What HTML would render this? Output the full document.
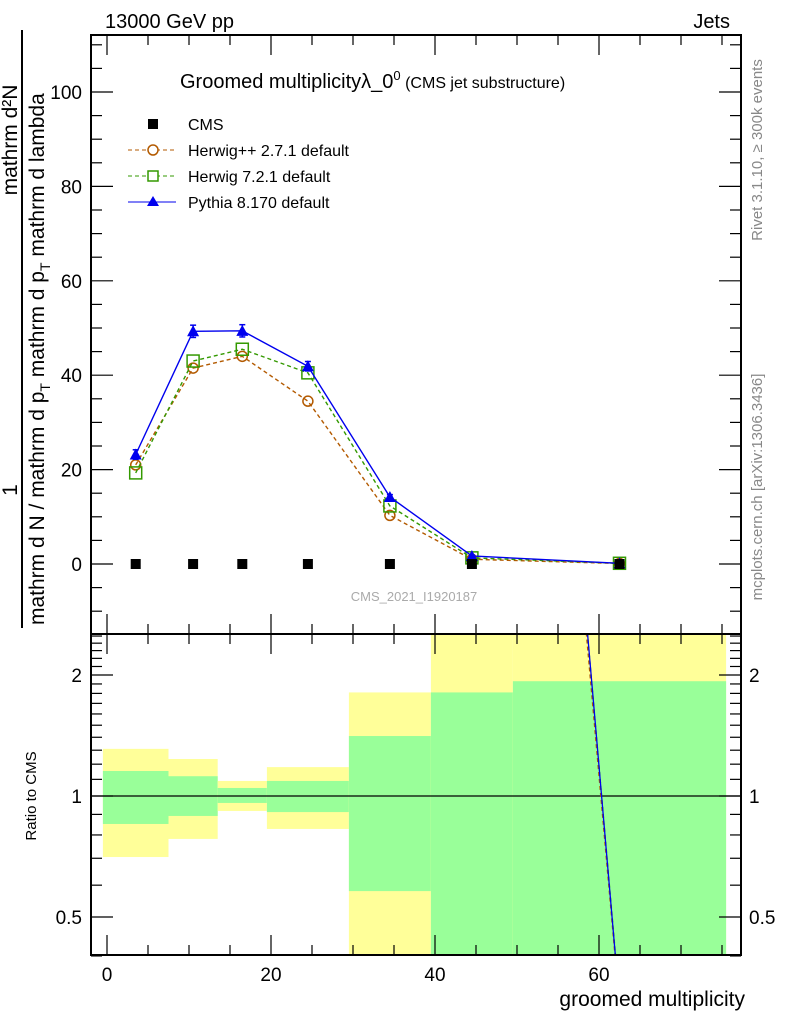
<!DOCTYPE html>
<html><head><meta charset="utf-8"><style>
body{margin:0;background:#fff;}
svg{display:block;font-family:"Liberation Sans",sans-serif;}
</style></head><body>
<svg id="c" width="786" height="1024" viewBox="0 0 786 1024" xmlns="http://www.w3.org/2000/svg">
<defs>
<clipPath id="mainclip"><rect x="91" y="35" width="650" height="599"/></clipPath>
<clipPath id="ratioclip"><rect x="91" y="634" width="650" height="321"/></clipPath>
</defs>
<g id="bands"></g>
<g id="marks"></g>
<g id="axes"></g>
<text x="105" y="28" font-size="20">13000 GeV pp</text>
<text x="730" y="28" font-size="20" text-anchor="end">Jets</text>
<text x="180" y="88" font-size="20">Groomed multiplicityλ_0<tspan font-size="13" dy="-8">0</tspan><tspan font-size="16" dy="8"> (CMS jet substructure)</tspan></text>
<text x="414" y="601" font-size="13" fill="#aaa" text-anchor="middle">CMS_2021_I1920187</text>
<text transform="translate(762,150) rotate(-90)" font-size="15" fill="#888" text-anchor="middle">Rivet 3.1.10, ≥ 300k events</text>
<text transform="translate(762,487) rotate(-90)" font-size="15" fill="#888" text-anchor="middle">mcplots.cern.ch [arXiv:1306.3436]</text>
<text x="745" y="1006" font-size="21" text-anchor="end">groomed multiplicity</text>
<text transform="translate(36,796) rotate(-90)" font-size="15" text-anchor="middle">Ratio to CMS</text>
<g font-size="21">
<line x1="22" y1="30" x2="22" y2="628" stroke="#000" stroke-width="2"/>
<text transform="translate(17,490) rotate(-90)" text-anchor="middle">1</text>
<text transform="translate(17,140) rotate(-90)" text-anchor="middle">mathrm d²N</text>
<text transform="translate(44,625) rotate(-90)">mathrm d N / mathrm d p<tspan font-size="14" dy="6">T</tspan><tspan dy="-6"> mathrm d p</tspan><tspan font-size="14" dy="6">T</tspan><tspan dy="-6"> mathrm d lambda</tspan></text>
</g>
<g font-size="16">
<g><rect x="148" y="119" width="10" height="10" fill="#000"/><text x="188" y="130">CMS</text></g>
<g><line x1="128" y1="150" x2="176" y2="150" stroke="#b35a00" stroke-dasharray="4,3"/><circle cx="153" cy="150" r="5" fill="#fff" stroke="#b35a00" stroke-width="1.5"/><text x="188" y="156">Herwig++ 2.7.1 default</text></g>
<g><line x1="128" y1="176" x2="176" y2="176" stroke="#339900" stroke-dasharray="4,3"/><rect x="148" y="171" width="10" height="10" fill="#fff" stroke="#339900" stroke-width="1.5"/><text x="188" y="182">Herwig 7.2.1 default</text></g>
<g><line x1="128" y1="202" x2="176" y2="202" stroke="#0000ee"/><polygon points="153,196 159,206 147,206" fill="#0000ee"/><text x="188" y="208">Pythia 8.170 default</text></g>
</g>
</svg>
<script>
const xs = [3.5, 10.5, 16.5, 24.5, 34.5, 44.5, 62.5];
const cms = [0, 0, 0, 0, 0, 0, 0];
const herwigpp = [21, 41.5, 44, 34.5, 10.3, 1.0, 0.1];
const herwig7 = [19.3, 43, 45.5, 40.5, 12.3, 1.3, 0.15];
const pythia = [23.2, 49.3, 49.4, 41.9, 14.2, 1.7, 0.15];
const pythiaErr = [1, 1.3, 1.3, 1, 0.5, 0.2, 0.05];
const binEdges = [-0.5, 7.5, 13.5, 19.5, 29.5, 39.5, 49.5, 75.5];
const yellowHi = [1.31, 1.236, 1.09, 1.18, 1.81, 3, 3];
const yellowLo = [0.705, 0.782, 0.918, 0.828, 0.3, 0.3, 0.3];
const greenHi = [1.154, 1.12, 1.047, 1.09, 1.41, 1.81, 1.93];
const greenLo = [0.852, 0.892, 0.961, 0.912, 0.58, 0.3, 0.3];
const ratioPythia = [1e7, 1e7, 1e7, 1e7, 1e7, 5400, 0.305];
const ratioHerwig7 = [1e7, 1e7, 1e7, 1e7, 1e7, 5000, 0.31];
const ratioHerwigpp = [1e7, 1e7, 1e7, 1e7, 1e7, 4000, 0.3];
const xTicks = [0, 20, 40, 60];
const yTicks = [0, 20, 40, 60, 80, 100];
const rTicks = [0.5, 1, 2];

const NS = "http://www.w3.org/2000/svg";
const L = 91, R = 741, MT = 35, MB = 634, RB = 955;
const X = v => 107 + (v - 0) * 8.2;
const Y = v => 564 - v * 4.72;
const RY = v => 796 - Math.log2(v) * 121;
function el(tag, attrs, parent) { const e = document.createElementNS(NS, tag); for (const k in attrs) e.setAttribute(k, attrs[k]); parent.appendChild(e); return e; }
const bands = document.getElementById('bands'), marks = document.getElementById('marks'), axes = document.getElementById('axes');
bands.setAttribute('clip-path', 'url(#ratioclip)');
for (let i = 0; i < yellowHi.length; i++) {
  const x0 = X(binEdges[i]), x1 = X(binEdges[i + 1]);
  const y = el('rect', {x: x0, y: RY(yellowHi[i]), width: x1 - x0, height: RY(yellowLo[i]) - RY(yellowHi[i]), fill: '#ffff99'}, bands);
  
  
  const g = el('rect', {x: x0, y: RY(greenHi[i]), width: x1 - x0, height: RY(greenLo[i]) - RY(greenHi[i]), fill: '#99ff99'}, bands);
  
  
}
el('line', {x1: L, x2: R, y1: RY(1), y2: RY(1), stroke: '#000', 'stroke-width': 1.3}, bands);
function ratioLine(arr, color, dash, name) {
  const p = el('polyline', {points: xs.map((x, i) => X(x) + ',' + RY(arr[i])).join(' '), fill: 'none', stroke: color, 'stroke-width': 1.3, 'stroke-dasharray': dash}, bands);
  
  
}
ratioLine(ratioHerwigpp, '#b35a00', '4,3', 'ratio-herwigpp');
ratioLine(ratioHerwig7, '#339900', '4,3', 'ratio-herwig7');
ratioLine(ratioPythia, '#0000ee', '', 'ratio-pythia');
const mg = el('g', {'clip-path': 'url(#mainclip)'}, marks);
function series(arr, color, dash, name, marker) {
  const p = el('polyline', {points: xs.map((x, i) => X(x) + ',' + Y(arr[i])).join(' '), fill: 'none', stroke: color, 'stroke-width': 1.4, 'stroke-dasharray': dash}, mg);
  
  
  arr.forEach((v, i) => {
    const cx = X(xs[i]), cy = Y(v); let m;
    if (marker === 'circle') m = el('circle', {cx, cy, r: 5, fill: 'none', stroke: color, 'stroke-width': 1.5}, mg);
    else if (marker === 'square') m = el('rect', {x: cx - 6, y: cy - 6, width: 12, height: 12, fill: 'none', stroke: color, 'stroke-width': 1.5}, mg);
    else {
      const yh = Y(v + pythiaErr[i]), yl = Y(v - pythiaErr[i]);
      el('line', {x1: cx, x2: cx, y1: yh, y2: yl, stroke: color, 'stroke-width': 1.5}, mg);
      el('line', {x1: cx - 3, x2: cx + 3, y1: yh, y2: yh, stroke: color, 'stroke-width': 1.5}, mg);
      el('line', {x1: cx - 3, x2: cx + 3, y1: yl, y2: yl, stroke: color, 'stroke-width': 1.5}, mg);
      m = el('polygon', {points: `${cx},${cy - 6} ${cx + 6},${cy + 5} ${cx - 6},${cy + 5}`, fill: color}, mg); }
    
    
  });
}
series(herwigpp, '#b35a00', '4,3', 'herwigpp', 'circle');
series(herwig7, '#339900', '4,3', 'herwig7', 'square');
series(pythia, '#0000ee', '', 'pythia', 'tri');
cms.forEach((v, i) => {
  const r = el('rect', {x: X(xs[i]) - 5, y: Y(v) - 5, width: 10, height: 10, fill: '#000'}, mg);
  
  
});
el('rect', {x: L, y: MT, width: R - L, height: MB - MT, fill: 'none', stroke: '#000', 'stroke-width': 2}, axes);
el('rect', {x: L, y: MB, width: R - L, height: RB - MB, fill: 'none', stroke: '#000', 'stroke-width': 2}, axes);
for (let v = 0; v <= 75; v += 5) {
  const maj = v % 20 === 0, len = maj ? 20 : 10, x = X(v);
  [[MT, 1], [MB, -1], [MB, 1], [RB, -1]].forEach(([y0, d]) => el('line', {x1: x, x2: x, y1: y0, y2: y0 + d * len, stroke: '#000', 'stroke-width': 1.2}, axes));
}
xTicks.forEach(v => { const t = el('text', {x: X(v), y: 981, 'font-size': 19, 'text-anchor': 'middle'}, axes); t.textContent = v;
    });
for (let v = -10; v <= 110; v += 5) {
  const maj = v % 20 === 0, len = maj ? 22 : 11, y = Y(v);
  el('line', {x1: L, x2: L + len, y1: y, y2: y, stroke: '#000', 'stroke-width': 1.2}, axes);
  el('line', {x1: R, x2: R - len, y1: y, y2: y, stroke: '#000', 'stroke-width': 1.2}, axes);
}
yTicks.forEach(v => { const t = el('text', {x: 82, y: Y(v) + 7, 'font-size': 19, 'text-anchor': 'end'}, axes); t.textContent = v;
    });
const rMinor = [0.4, 0.5, 0.6, 0.7, 0.8, 0.9, 1, 1.1, 1.2, 1.3, 1.4, 1.5, 1.6, 1.7, 1.8, 1.9, 2, 2.1, 2.2, 2.3, 2.4, 2.5];
rMinor.forEach(v => { const maj = rTicks.includes(v), len = maj ? 22 : 11, y = RY(v);
  el('line', {x1: L, x2: L + len, y1: y, y2: y, stroke: '#000', 'stroke-width': 1.2}, axes);
  el('line', {x1: R, x2: R - len, y1: y, y2: y, stroke: '#000', 'stroke-width': 1.2}, axes); });
rTicks.forEach(v => {
  const t = el('text', {x: 82, y: RY(v) + 7, 'font-size': 19, 'text-anchor': 'end'}, axes); t.textContent = v;
   
  const t2 = el('text', {x: 749, y: RY(v) + 7, 'font-size': 19}, axes); t2.textContent = v;
   
});
</script>
</body></html>
